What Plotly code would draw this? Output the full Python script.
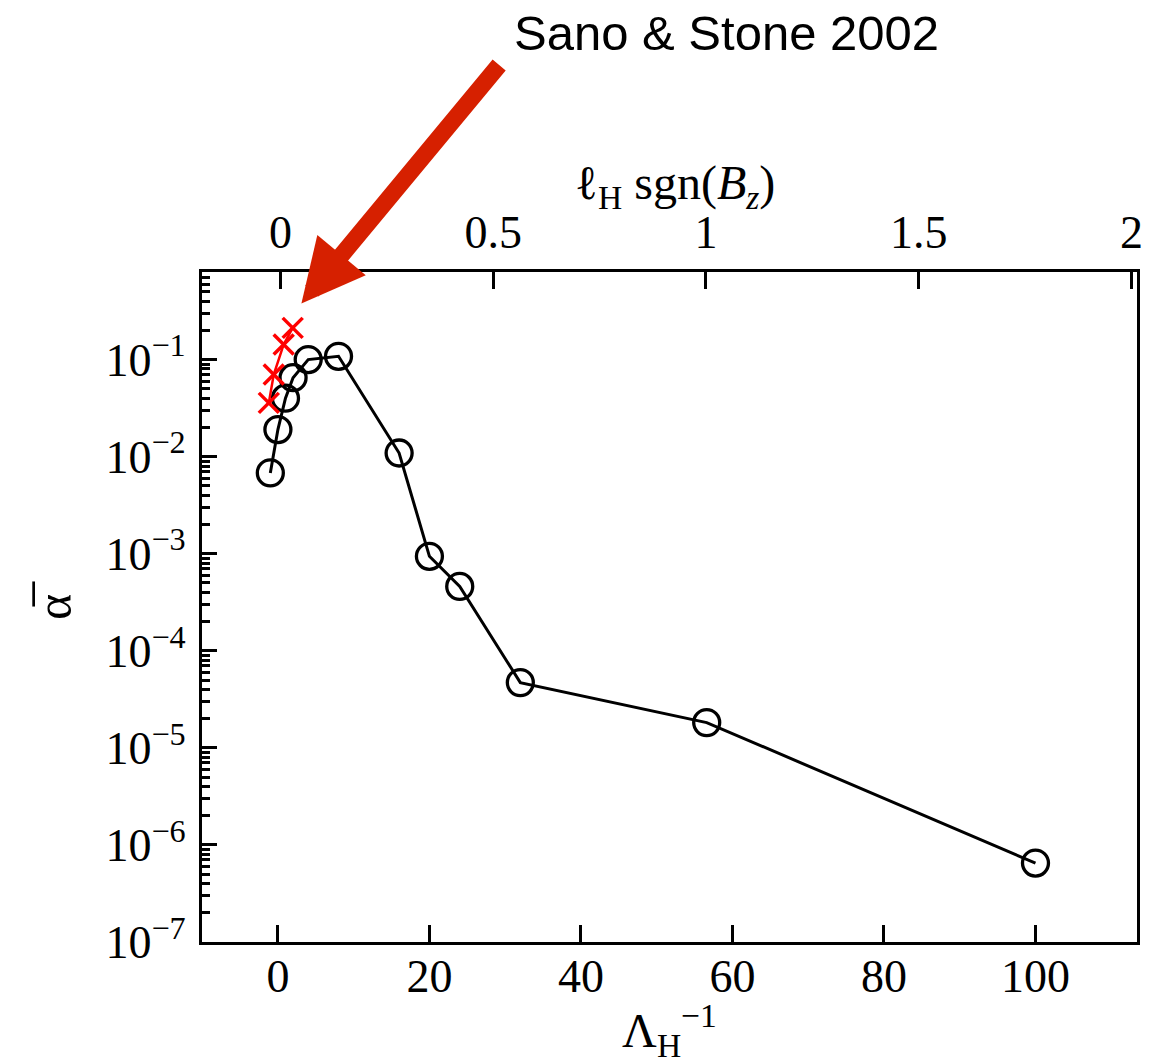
import plotly.graph_objects as go

# ---- data ----
lam_inv = [-1, 0, 1, 2, 4, 8, 16, 20, 24, 32, 56.6, 100]
alpha_bar = [6.8e-3, 1.9e-2, 4.0e-2, 6.5e-2, 1.0e-1, 1.08e-1, 1.09e-2, 9.4e-4, 4.6e-4, 4.7e-5, 1.82e-5, 6.5e-7]

ss_x = [-1.2, -0.55, 0.76, 1.95]
ss_alpha = [0.0358, 0.070, 0.143, 0.212]

x_ticks = [0, 20, 40, 60, 80, 100]
x2_ticks = [0, 0.5, 1, 1.5, 2]
x2_labels = ["0", "0.5", "1", "1.5", "2"]
y_exps = [-1, -2, -3, -4, -5, -6, -7]

SERIF = "Liberation Serif"
BLACK = "black"

fig = go.Figure()
fig.add_trace(go.Scatter(
    x=lam_inv, y=alpha_bar, mode="lines+markers",
    line=dict(color=BLACK, width=3),
    marker=dict(symbol="circle-open", size=26, color=BLACK, line=dict(width=3.3, color=BLACK)),
    showlegend=False, xaxis="x", yaxis="y"))
fig.add_trace(go.Scatter(
    x=ss_x, y=ss_alpha, mode="lines+markers",
    line=dict(color="#ff0000", width=2.5),
    marker=dict(symbol="x-thin-open", size=20, color="#ff0000", line=dict(width=3.5, color="#ff0000")),
    showlegend=False, xaxis="x", yaxis="y"))
# invisible trace to activate top axis
fig.add_trace(go.Scatter(x=[0, 1], y=[1e-3, 1e-3], mode="markers", marker=dict(opacity=0),
                         showlegend=False, hoverinfo="skip", xaxis="x2", yaxis="y"))

tickfont = dict(family=SERIF, size=46, color=BLACK)
titlefont = dict(family=SERIF, size=48, color=BLACK)

fig.update_layout(
    width=1173, height=1064,
    margin=dict(l=202, r=36, t=272, b=122),
    paper_bgcolor="white", plot_bgcolor="white",
    xaxis=dict(
        range=[-10.02, 113.4], tickvals=x_ticks, ticktext=[str(v) for v in x_ticks],
        ticks="inside", ticklen=17, tickwidth=3, tickcolor=BLACK,
        showline=True, linewidth=3.3, linecolor=BLACK, mirror=False,
        showgrid=False, zeroline=False, tickfont=tickfont, ticklabelstandoff=-8,
        title=dict(text="Λ<sub>H</sub><sup>−1</sup>", font=titlefont, standoff=10),
    ),
    xaxis2=dict(
        overlaying="x", side="top", anchor="y",
        range=[-0.1843, 2.013], tickvals=x2_ticks, ticktext=x2_labels,
        ticks="inside", ticklen=17, tickwidth=3, tickcolor=BLACK,
        showline=True, linewidth=3.3, linecolor=BLACK,
        showgrid=False, zeroline=False, tickfont=tickfont, ticklabelstandoff=2,
    ),
    yaxis=dict(
        type="log", range=[-7, -0.098],
        tickvals=[10.0 ** e for e in y_exps],
        ticktext=["10<sup>−%d</sup>" % (-e) for e in y_exps],
        ticks="inside", ticklen=15, tickwidth=3, tickcolor=BLACK,
        minor=dict(ticks="inside", ticklen=8, tickwidth=2.5, tickcolor=BLACK, dtick="D1", showgrid=False),
        showline=True, linewidth=3.3, linecolor=BLACK, mirror=True,
        showgrid=False, zeroline=False, tickfont=tickfont, ticklabelstandoff=4,
        title=dict(text="α̅", font=dict(family=SERIF, size=50, color=BLACK), standoff=18),
    ),
)

# top axis title
fig.add_annotation(
    text="ℓ<sub>H</sub> sgn(<i>B</i><sub><i>z</i></sub>)", xref="paper", yref="paper",
    x=0.506, y=1.0, yshift=86, xanchor="center", yanchor="middle",
    showarrow=False, font=titlefont)

# annotation text
fig.add_annotation(
    text="Sano &amp; Stone 2002", xref="paper", yref="paper",
    x=0.561, y=1.0, yshift=239, xanchor="center", yanchor="middle",
    showarrow=False, font=dict(family="Liberation Sans", size=49, color=BLACK))

# red arrow pointing at the Sano & Stone points
fig.add_annotation(
    text="", x=3.1, y=-0.423, xref="x", yref="y",
    ax=199, ay=-240, axref="pixel", ayref="pixel",
    showarrow=True, arrowhead=2, arrowwidth=17, arrowsize=0.74,
    arrowcolor="#d62000", standoff=0)

fig.write_html("out.html")
